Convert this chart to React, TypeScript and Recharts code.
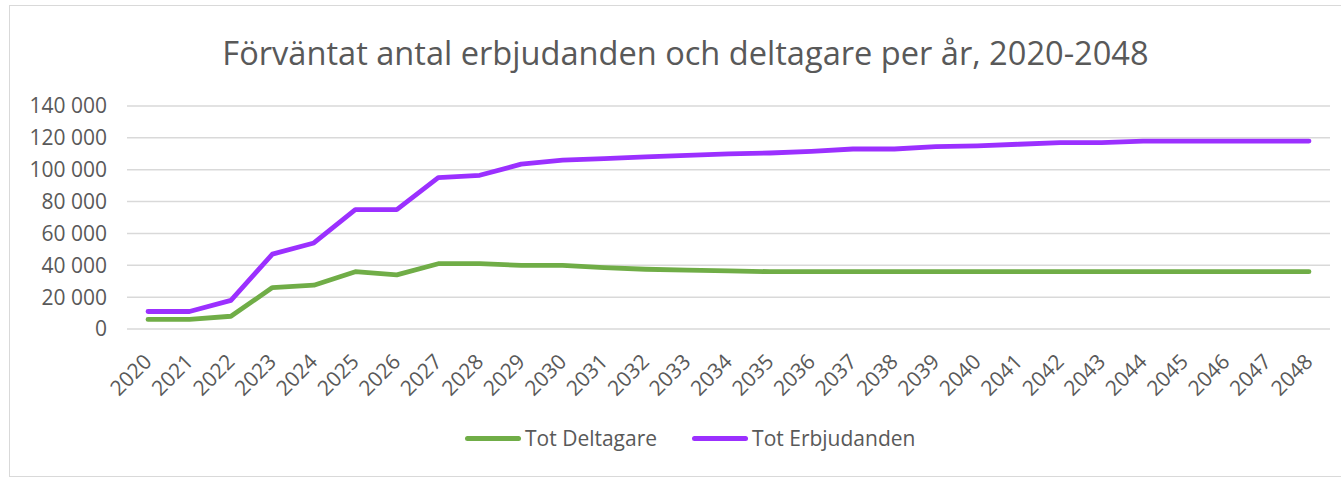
import { LineChart, Line, XAxis, YAxis, CartesianGrid, Legend } from "recharts";

const years = [
  "2020", "2021", "2022", "2023", "2024", "2025", "2026", "2027", "2028", "2029",
  "2030", "2031", "2032", "2033", "2034", "2035", "2036", "2037", "2038", "2039",
  "2040", "2041", "2042", "2043", "2044", "2045", "2046", "2047", "2048",
];

const deltagare = [
  6000, 6000, 8000, 26000, 27500, 36000, 34000, 41000, 41000, 40000,
  40000, 38500, 37500, 37000, 36500, 36000, 36000, 36000, 36000, 36000,
  36000, 36000, 36000, 36000, 36000, 36000, 36000, 36000, 36000,
];

const erbjudanden = [
  11000, 11000, 18000, 47000, 54000, 75000, 75000, 95000, 96500, 103500,
  106000, 107000, 108000, 109000, 110000, 110500, 111500, 113000, 113000, 114500,
  115000, 116000, 117000, 117000, 118000, 118000, 118000, 118000, 118000,
];

const yTicks = [0, 20000, 40000, 60000, 80000, 100000, 120000, 140000];

const data = years.map((year, i) => ({
  year,
  deltagare: deltagare[i],
  erbjudanden: erbjudanden[i],
}));

const FONT = "'Open Sans', sans-serif";
const TEXT = "#595959";
const GREEN = "#70ad47";
const PURPLE = "#9b30ff";

const fmt = (v: number) => {
  if (v === 0) return "0";
  const s = String(v);
  return s.slice(0, s.length - 3) + " " + s.slice(-3);
};

const XTick = (props: any) => {
  const { x, y, payload } = props;
  const ax = x + 5;
  const ay = y + 34;
  return (
    <text
      x={ax}
      y={ay}
      transform={`rotate(-45 ${ax} ${ay})`}
      textAnchor="end"
      fill={TEXT}
      fontSize={21}
      fontFamily={FONT}
    >
      {payload.value}
    </text>
  );
};

const LegendContent = () => (
  <div
    style={{
      display: "flex",
      alignItems: "center",
      marginLeft: 455,
      height: 30,
      fontFamily: FONT,
      fontSize: 21,
      color: TEXT,
    }}
  >
    <div style={{ width: 56, height: 5, borderRadius: 3, background: GREEN, marginRight: 4 }} />
    <span style={{ marginRight: 35 }}>Tot Deltagare</span>
    <div style={{ width: 56, height: 5, borderRadius: 3, background: PURPLE, marginRight: 4 }} />
    <span>Tot Erbjudanden</span>
  </div>
);

export default function App() {
  return (
    <div
      style={{
        position: "absolute",
        left: 9,
        top: 5,
        width: 1340,
        height: 470,
        borderLeft: "1px solid #d9d9d9",
        borderTop: "1px solid #d9d9d9",
        borderBottom: "1px solid #d9d9d9",
        background: "#fff",
      }}
    >
      <div
        style={{
          position: "absolute",
          left: 0,
          top: 24,
          width: 1351,
          textAlign: "center",
          fontFamily: FONT,
          fontSize: 32.6,
          color: TEXT,
          whiteSpace: "nowrap",
        }}
      >
        Förväntat antal erbjudanden och deltagare per år, 2020-2048
      </div>
      <LineChart
        width={1331}
        height={470}
        data={data}
        margin={{ top: 100, right: 11, left: 0, bottom: 57 }}
      >
        <CartesianGrid vertical={false} stroke="#d9d9d9" strokeWidth={1.5} />
        <XAxis
          dataKey="year"
          axisLine={false}
          tickLine={false}
          tickSize={0}
          tickMargin={0}
          height={60}
          interval={0}
          padding={{ left: 21, right: 21 }}
          tick={<XTick />}
        />
        <YAxis
          width={117}
          domain={[0, 140000]}
          ticks={yTicks}
          axisLine={false}
          tickLine={false}
          tickSize={6}
          tickMargin={14}
          tickFormatter={fmt}
          tick={{ fill: TEXT, fontSize: 21, fontFamily: FONT }}
        />
        <Legend
          verticalAlign="bottom"
          content={<LegendContent />}
          wrapperStyle={{ left: 0, bottom: 23, width: 1331, height: 30 }}
        />
        <Line
          type="linear"
          dataKey="deltagare"
          name="Tot Deltagare"
          stroke={GREEN}
          strokeWidth={4.8}
          strokeLinecap="round"
          strokeLinejoin="round"
          dot={false}
          isAnimationActive={false}
        />
        <Line
          type="linear"
          dataKey="erbjudanden"
          name="Tot Erbjudanden"
          stroke={PURPLE}
          strokeWidth={4.8}
          strokeLinecap="round"
          strokeLinejoin="round"
          dot={false}
          isAnimationActive={false}
        />
      </LineChart>
    </div>
  );
}
